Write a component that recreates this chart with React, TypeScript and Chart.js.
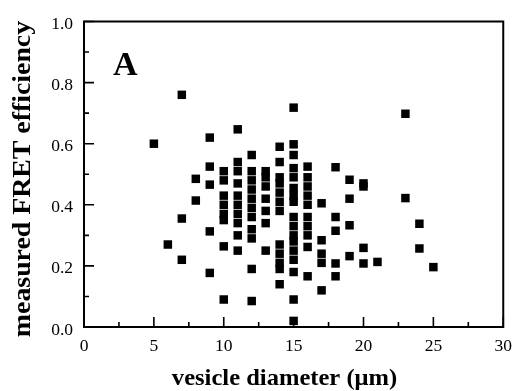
import React, { useEffect, useRef } from 'react';
import { Chart, registerables } from 'chart.js';

Chart.register(...registerables);

// vesicle diameter (µm) for each measured vesicle
const diameters: number[] = [
  5,
  6,
  7, 7, 7,
  8, 8,
  9, 9, 9, 9, 9,
  10, 10, 10, 10, 10, 10, 10, 10,
  11, 11, 11, 11, 11, 11, 11, 11, 11, 11,
  12, 12, 12, 12, 12, 12, 12, 12, 12, 12, 12,
  13, 13, 13, 13, 13, 13, 13,
  14, 14, 14, 14, 14, 14, 14, 14, 14, 14, 14, 14,
  15, 15, 15, 15, 15, 15, 15, 15, 15, 15, 15, 15, 15, 15, 15, 15, 15,
  16, 16, 16, 16, 16, 16, 16, 16, 16, 16,
  17, 17, 17, 17, 17,
  18, 18, 18, 18, 18,
  19, 19, 19, 19,
  20, 20, 20, 20,
  21,
  23, 23,
  24, 24,
  25,
];

// measured FRET efficiency, same order as diameters
const efficiencies: number[] = [
  0.60,
  0.27,
  0.76, 0.355, 0.22,
  0.485, 0.414,
  0.62, 0.525, 0.466, 0.313, 0.177,
  0.51, 0.48, 0.43, 0.40, 0.37, 0.35, 0.264, 0.09,
  0.647, 0.54, 0.51, 0.47, 0.43, 0.40, 0.37, 0.34, 0.30, 0.25,
  0.563, 0.51, 0.48, 0.45, 0.42, 0.39, 0.36, 0.32, 0.29, 0.19, 0.085,
  0.51, 0.49, 0.46, 0.42, 0.38, 0.34, 0.25,
  0.59, 0.54, 0.49, 0.47, 0.44, 0.41, 0.38, 0.27, 0.24, 0.21, 0.19, 0.14,
  0.718, 0.598, 0.563, 0.52, 0.49, 0.455, 0.43, 0.41, 0.36, 0.33, 0.30, 0.28, 0.25, 0.22, 0.18, 0.09, 0.02,
  0.525, 0.49, 0.46, 0.43, 0.40, 0.36, 0.33, 0.30, 0.262, 0.166,
  0.405, 0.284, 0.24, 0.21, 0.12,
  0.523, 0.36, 0.315, 0.208, 0.166,
  0.482, 0.42, 0.333, 0.232,
  0.47, 0.46, 0.259, 0.208,
  0.213,
  0.698, 0.422,
  0.338, 0.257,
  0.196,
];

const xMin = 0;
const xMax = 30;
const xMajorStep = 5;
const xMinorStep = 2.5;
const yMin = 0;
const yMax = 1;
const yMajorStep = 0.2;
const yMinorStep = 0.1;

const xTitle = 'vesicle diameter (\u03BCm)';
const yTitle = 'measured FRET efficiency';
const panelLabel = 'A';

const SERIF = '"Liberation Serif", serif';

Chart.defaults.font.family = SERIF;
Chart.defaults.color = '#000';

const framePlugin = {
  id: 'frameAndText',
  afterDatasetsDraw(chart: any) {
    const { ctx, chartArea, scales } = chart;
    const { left, right, top, bottom } = chartArea;
    const xs = scales.x;
    const ys = scales.y;
    ctx.save();
    ctx.strokeStyle = '#000';
    ctx.lineWidth = 2;
    ctx.strokeRect(left, top, right - left, bottom - top);

    ctx.lineWidth = 1.6;
    ctx.beginPath();
    const nx = Math.round((xMax - xMin) / xMinorStep);
    for (let i = 0; i <= nx; i++) {
      const v = xMin + i * xMinorStep;
      const px = xs.getPixelForValue(v);
      const major = Math.abs(v / xMajorStep - Math.round(v / xMajorStep)) < 1e-6;
      const len = major ? 10 : 5;
      ctx.moveTo(px, bottom);
      ctx.lineTo(px, bottom - len);
    }
    const ny = Math.round((yMax - yMin) / yMinorStep);
    for (let i = 0; i <= ny; i++) {
      const v = yMin + i * yMinorStep;
      const py = ys.getPixelForValue(v);
      const major = i % Math.round(yMajorStep / yMinorStep) === 0;
      const len = major ? 10 : 5;
      ctx.moveTo(left, py);
      ctx.lineTo(left + len, py);
    }
    ctx.stroke();

    ctx.fillStyle = '#000';
    // panel label
    ctx.font = `bold 34px ${SERIF}`;
    ctx.textAlign = 'left';
    ctx.textBaseline = 'alphabetic';
    ctx.fillText(panelLabel, 113, 75);

    // x title
    ctx.save();
    ctx.translate(284.5, 385);
    ctx.scale(1.045, 1);
    ctx.font = `bold 23.5px ${SERIF}`;
    ctx.textAlign = 'center';
    ctx.fillText(xTitle, 0, 0);
    ctx.restore();

    // y title
    ctx.save();
    ctx.translate(30, 179);
    ctx.rotate(-Math.PI / 2);
    ctx.scale(1.07, 1);
    ctx.font = `bold 26px ${SERIF}`;
    ctx.textAlign = 'center';
    ctx.fillText(yTitle, 0, 0);
    ctx.restore();

    ctx.restore();
  },
};

export default function App() {
  const canvasRef = useRef<HTMLCanvasElement | null>(null);

  useEffect(() => {
    const canvas = canvasRef.current;
    if (!canvas) return;
    const points = diameters.map((d, i) => ({ x: d, y: efficiencies[i] }));
    const chart = new Chart(canvas, {
      type: 'scatter',
      data: {
        datasets: [
          {
            data: points,
            pointStyle: 'rect',
            pointRadius: 6,
            pointHoverRadius: 6,
            pointBorderWidth: 0,
            backgroundColor: '#000',
            borderColor: '#000',
            clip: false,
          } as any,
        ],
      },
      plugins: [framePlugin],
      options: {
        animation: false,
        responsive: false,
        devicePixelRatio: 1,
        layout: { padding: { left: 0, right: 14, top: 20, bottom: 0 } },
        plugins: {
          legend: { display: false },
          tooltip: { enabled: false },
          title: { display: false },
        },
        scales: {
          x: {
            type: 'linear',
            min: xMin,
            max: xMax,
            grid: { display: false, drawTicks: false },
            border: { display: false },
            ticks: {
              stepSize: xMajorStep,
              color: '#000',
              font: { family: SERIF, size: 17.5 },
              padding: 9,
              maxRotation: 0,
            },
            afterFit: (s: any) => {
              s.height = 64;
            },
          },
          y: {
            type: 'linear',
            min: yMin,
            max: yMax,
            grid: { display: false, drawTicks: false },
            border: { display: false },
            ticks: {
              stepSize: yMajorStep,
              color: '#000',
              font: { family: SERIF, size: 17.5 },
              padding: 11,
              labelOffset: 3,
              callback: (v: any) => Number(v).toFixed(1),
            },
            afterFit: (s: any) => {
              s.width = 84;
            },
          },
        },
      },
    });
    return () => chart.destroy();
  }, []);

  return (
    <div style={{ position: 'fixed', left: 0, top: 0, width: 521, height: 391, background: '#fff' }}>
      <canvas ref={canvasRef} width={521} height={391} style={{ width: 521, height: 391 }} />
    </div>
  );
}
